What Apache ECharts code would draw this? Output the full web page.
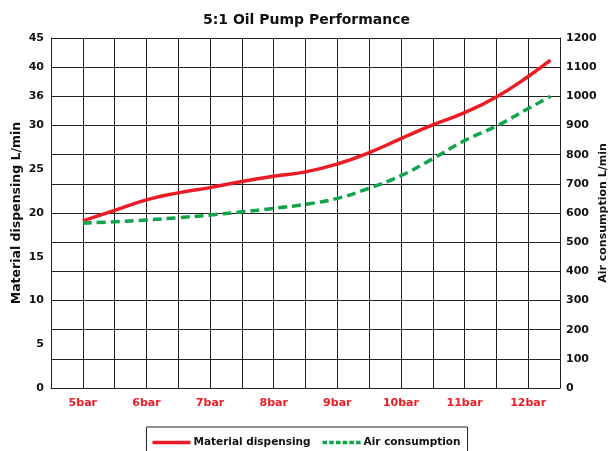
<!DOCTYPE html>
<html>
<head>
<meta charset="utf-8">
<script src="https://cdn.jsdelivr.net/npm/echarts@6/dist/echarts.min.js"></script>
<style>
  html, body { margin: 0; padding: 0; background: #fff; }
  #chart { width: 613px; height: 451px; }
</style>
</head>
<body>
<div id="chart"></div>
<script>
// ---- Data ----
const pressures = [5, 5.5, 6, 6.5, 7, 7.5, 8, 8.5, 9, 9.5, 10, 10.5, 11, 11.5, 12, 12.35];
const materialDispensing = [19.1, 20.3, 21.5, 22.3, 22.9, 23.6, 24.2, 24.7, 25.6, 26.9, 28.5, 30.1, 32.2, 34.9, 38.4, 41.2];
const airConsumption = [565, 570, 576, 584, 593, 604, 616, 630, 650, 685, 728, 786, 848, 898, 958, 1000];

const xTickValues = [5, 6, 7, 8, 9, 10, 11, 12];
const xTickLabels = ['5bar', '6bar', '7bar', '8bar', '9bar', '10bar', '11bar', '12bar'];

const leftTickValues = [0, 5, 10, 15, 20, 25, 30, 35, 40, 45];
const leftTickLabels = ['0', '5', '10', '15', '20', '25', '30', '36', '40', '45'];

const rightTickValues = [0, 100, 200, 300, 400, 500, 600, 700, 800, 900, 1000, 1100, 1200];

// The reference's left axis is piecewise: 0-30 spans 9 grid rows, 30-45 spans 3 rows.
function toGrid(v) { return v <= 30 ? v * 0.3 : 9 + (v - 30) * 0.2; }
const leftGridValues = leftTickValues.map(toGrid);

const RED = '#ec1c24';
const GREEN = '#10a54a';
const FONT = '"DejaVu Sans", "Liberation Sans", Arial, sans-serif';

const chart = echarts.init(document.getElementById('chart'), null, { renderer: 'canvas' });
chart.setOption({
  animation: false,
  backgroundColor: '#fff',
  title: {
    text: '5:1 Oil Pump Performance',
    left: 'center',
    top: 8,
    textStyle: { fontFamily: FONT, fontWeight: 'bold', fontSize: 14, color: '#111' }
  },
  legend: {
    top: 427,
    left: 'center',
    padding: [10, 7, 10, 6],
    borderColor: '#222',
    borderWidth: 1,
    itemWidth: 38,
    itemHeight: 14,
    itemGap: 12,
    textStyle: { fontFamily: FONT, fontWeight: 'bold', fontSize: 10.5, color: '#111', padding: [0, 0, 0, -2] },
    data: [
      { name: 'Material dispensing', icon: 'path://M0,0 L38,0 L38,3.5 L0,3.5 Z', itemStyle: { color: RED } },
      { name: 'Air consumption', icon: 'path://M0,0h4.5v3.5h-4.5z M6.7,0h4.5v3.5h-4.5z M13.4,0h4.5v3.5h-4.5z M20.1,0h4.5v3.5h-4.5z M26.8,0h4.5v3.5h-4.5z M33.5,0h4.5v3.5h-4.5z', itemStyle: { color: GREEN } }
    ]
  },
  grid: { left: 51, right: 53, top: 38, bottom: 63, outerBoundsMode: 'none', containLabel: false },
  xAxis: {
    type: 'value',
    min: 4.5,
    max: 12.5,
    interval: 0.5,
    axisLine: { show: true, lineStyle: { color: '#222', width: 1 } },
    axisTick: { show: false },
    splitLine: { show: true, lineStyle: { color: '#222', width: 1 } },
    axisLabel: {
      customValues: xTickValues,
      formatter: function (v) {
        const i = xTickValues.findIndex(function (t) { return Math.abs(t - v) < 1e-6; });
        return i >= 0 ? xTickLabels[i] : '';
      },
      color: RED,
      fontFamily: FONT,
      fontWeight: 'bold',
      fontSize: 11,
      margin: 10
    }
  },
  yAxis: [
    {
      type: 'value',
      position: 'left',
      min: 0,
      max: 12,
      interval: 1,
      name: 'Material dispensing L/min',
      nameLocation: 'middle',
      nameGap: 28,
      nameRotate: 90,
      nameMoveOverlap: false,
      nameTextStyle: { fontFamily: FONT, fontWeight: 'bold', fontSize: 12.5, color: '#111' },
      axisLine: { show: true, lineStyle: { color: '#222', width: 1 } },
      axisTick: { show: false },
      splitLine: { show: true, lineStyle: { color: '#222', width: 1 } },
      axisLabel: {
        customValues: leftGridValues,
        formatter: function (v) {
          const i = leftGridValues.findIndex(function (g) { return Math.abs(g - v) < 1e-6; });
          return i >= 0 ? leftTickLabels[i] : '';
        },
        color: '#111',
        fontFamily: FONT,
        fontWeight: 'bold',
        fontSize: 11,
        margin: 7
      }
    },
    {
      type: 'value',
      position: 'right',
      min: 0,
      max: 1200,
      interval: 100,
      name: 'Air consumption L/min',
      nameLocation: 'middle',
      nameGap: 38,
      nameRotate: 90,
      nameMoveOverlap: false,
      nameTextStyle: { fontFamily: FONT, fontWeight: 'bold', fontSize: 11, color: '#111' },
      axisLine: { show: true, lineStyle: { color: '#222', width: 1 } },
      axisTick: { show: false },
      splitLine: { show: false },
      axisLabel: {
        customValues: rightTickValues,
        formatter: function (v) { return String(v); },
        color: '#111',
        fontFamily: FONT,
        fontWeight: 'bold',
        fontSize: 11,
        margin: 6
      }
    }
  ],
  series: [
    {
      name: 'Material dispensing',
      type: 'line',
      yAxisIndex: 0,
      smooth: true,
      symbol: 'none',
      lineStyle: { color: RED, width: 3.5 },
      itemStyle: { color: RED },
      data: pressures.map(function (p, i) { return [p, toGrid(materialDispensing[i])]; }),
      z: 3
    },
    {
      name: 'Air consumption',
      type: 'line',
      yAxisIndex: 1,
      smooth: true,
      symbol: 'none',
      lineStyle: { color: GREEN, width: 3.5, type: [9, 5] },
      itemStyle: { color: GREEN },
      data: pressures.map(function (p, i) { return [p, airConsumption[i]]; }),
      z: 3
    }
  ]
});
</script>
</body>
</html>
